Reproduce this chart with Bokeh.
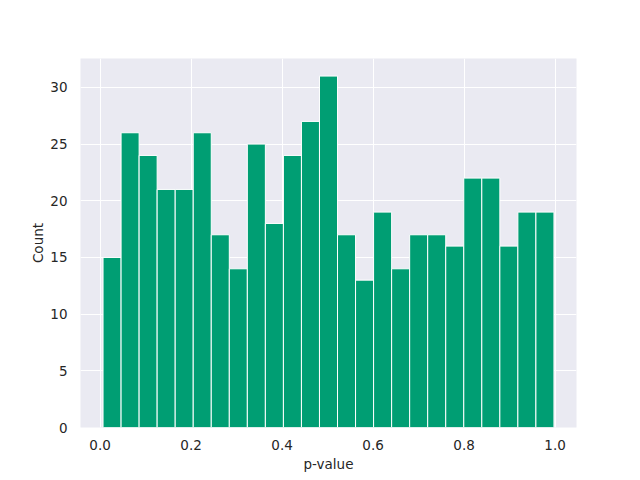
import numpy as np
from bokeh.plotting import figure
from bokeh.models import Range1d, FixedTicker
from bokeh.embed import file_html
from bokeh.resources import INLINE

# Histogram data
counts = [15, 26, 24, 21, 21, 26, 17, 14, 25, 18, 24, 27, 31,
          17, 13, 19, 14, 17, 17, 16, 22, 22, 16, 19, 19]
bin_lo = 0.0065
bin_hi = 0.9975
x_ticks = [0.0, 0.2, 0.4, 0.6, 0.8, 1.0]
y_ticks = [0, 5, 10, 15, 20, 25, 30]

edges = np.linspace(bin_lo, bin_hi, len(counts) + 1)
pad = 0.05 * (bin_hi - bin_lo)

p = figure(output_backend="svg", toolbar_location=None,
           frame_width=496, frame_height=369,
           min_border_left=80, min_border_right=48,
           min_border_top=58, min_border_bottom=37,
           x_range=Range1d(bin_lo - pad, bin_hi + pad),
           y_range=Range1d(0, max(counts) * 1.05))

p.background_fill_color = "#EAEAF2"
p.border_fill_color = "white"
p.outline_line_color = None

p.quad(left=edges[:-1], right=edges[1:], bottom=0, top=counts,
       fill_color="#009E73", line_color="white", line_width=1)

p.xaxis.ticker = FixedTicker(ticks=x_ticks)
p.yaxis.ticker = FixedTicker(ticks=y_ticks)
p.xaxis.major_label_overrides = {t: f"{t:.1f}" for t in x_ticks}

for ax in (p.xaxis, p.yaxis):
    ax.axis_line_color = None
    ax.major_tick_line_color = None
    ax.minor_tick_line_color = None
    ax.major_label_text_font = "DejaVu Sans"
    ax.major_label_text_font_size = "13.5px"
    ax.major_label_text_color = "#262626"
    ax.axis_label_text_font = "DejaVu Sans"
    ax.axis_label_text_font_size = "13.5px"
    ax.axis_label_text_font_style = "normal"
    ax.axis_label_text_color = "#262626"

p.xaxis.major_label_standoff = 6
p.yaxis.major_label_standoff = 7
p.xaxis.axis_label = "p-value"
p.yaxis.axis_label = "Count"
p.xaxis.axis_label_standoff = 3
p.yaxis.axis_label_standoff = 1

p.xgrid.grid_line_color = "white"
p.ygrid.grid_line_color = "white"
p.xgrid.grid_line_width = 1
p.ygrid.grid_line_width = 1

open("out.html", "w").write(file_html(p, INLINE))
